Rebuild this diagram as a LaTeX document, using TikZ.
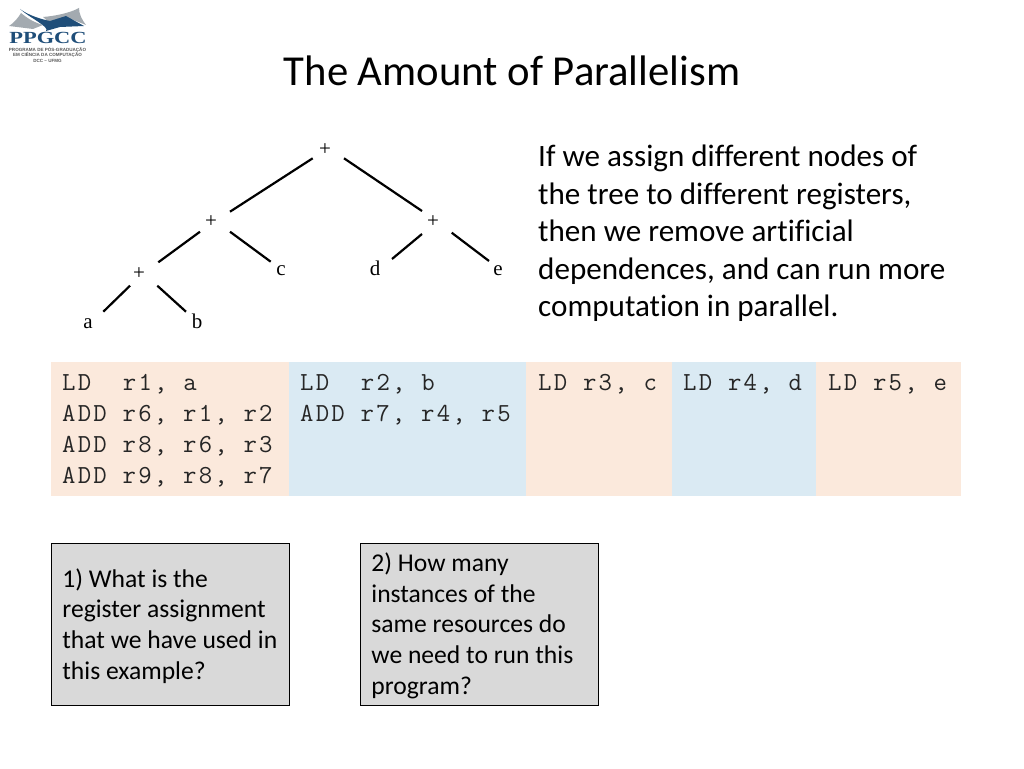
\documentclass[tikz,border=0pt]{standalone}
\usepackage{fontspec}
\usetikzlibrary{calc}
\setmainfont{Carlito}[Ligatures=NoCommon]
\newfontfamily\monof{Latin Modern Mono}[LetterSpace=8.5]
\newfontfamily\treef{Liberation Serif}
\newfontfamily\logof{Liberation Serif}[FakeStretch=1.32]
\newfontfamily\logos{Liberation Sans}
\definecolor{peach}{HTML}{FBE9DC}
\definecolor{paleblue}{HTML}{DAEAF3}
\definecolor{qgray}{HTML}{D9D9D9}
\definecolor{logoblue}{HTML}{1F4E79}
\definecolor{logogray}{HTML}{A3AAB0}
\newcommand\firstline{\rule{0pt}{24pt}}
\newcommand\qfirst{\rule{0pt}{21.5pt}}
\newcommand\monofont{\monof\fontsize{26}{31}\selectfont\fontdimen2\font=15.9pt }
\tikzset{
  treenode/.style={anchor=base,inner sep=0pt,font=\treef\fontsize{21}{21}\selectfont},
  treeedge/.style={line width=2.2pt,black},
  cell/.style={anchor=north west,inner sep=0pt,outer sep=0pt,minimum height=134pt},
  celltext/.style={anchor=north west,inner sep=0pt,align=flush left,text=black!85,font=\monofont},
  question/.style={draw=black,line width=0.8pt,fill=qgray,anchor=north west,minimum width=238pt,minimum height=162pt,inner sep=0pt,align=flush left,text width=216pt,font=\fontsize{25.6}{30.7}\selectfont},
}
\begin{document}
\begin{tikzpicture}[x=1pt,y=-1pt]
\useasboundingbox (0,0) rectangle (1024,768);
\fill[white] (0,0) rectangle (1024,768);
% logo
\fill[logogray] (9,26) .. controls (14,23) and (18,18) .. (21,13) .. controls (27,18) and (33,22) .. (43,25) -- (33,29) -- cycle;
\fill[logogray] (43,17) .. controls (55,16) and (70,13) .. (79,8) .. controls (79,14) and (82,20) .. (86,25) -- (66,17) -- (50,23) -- cycle;
\fill[logoblue] (20,9) .. controls (28,15) and (40,19) .. (50,21) -- (66,16) -- (84,26) -- (60,27) -- (46,31) .. controls (50,27) and (30,18) .. (20,9) -- cycle;
\node[inner sep=0pt,text=logoblue] (logotext) at (48,38) {\logof\bfseries\fontsize{17}{17}\selectfont PPGCC};
\node[inner sep=0pt,align=center,text=black!65,font=\logos\bfseries\fontsize{4.55}{5.5}\selectfont] (logosub) at (47.5,54.8) {PROGRAMA DE PÓS-GRADUAÇÃO\\EM CIÊNCIA DA COMPUTAÇÃO\\DCC – UFMG};
% title
\node[inner sep=0pt,font=\fontsize{42.7}{42.7}\selectfont] (title) at (512,71) {The Amount of Parallelism};
% tree
\node[treenode] (root) at (325,155.5) {+};
\node[treenode] (l) at (211,227.5) {+};
\node[treenode] (r) at (433,227.5) {+};
\node[treenode] (ll) at (139,279.5) {+};
\node[treenode] (c) at (281,275.7) {c};
\node[treenode] (d) at (375,275.7) {d};
\node[treenode] (e) at (498,275.7) {e};
\node[treenode] (a) at (88,328.3) {a};
\node[treenode] (b) at (197,328.3) {b};
\draw[treeedge] ($(root.base)+(-12.3,2.8)$) -- ($(l.base)+(19,-15.8)$);
\draw[treeedge] ($(root.base)+(19,2.8)$) -- ($(r.base)+(-11,-16.5)$);
\draw[treeedge] ($(l.base)+(-11,4.2)$) -- ($(ll.base)+(19.3,-17.2)$);
\draw[treeedge] ($(l.base)+(19,4.2)$) -- ($(c.base)+(-10.3,-14)$);
\draw[treeedge] ($(r.base)+(-11,6.5)$) -- ($(d.base)+(17,-16.7)$);
\draw[treeedge] ($(r.base)+(18.7,5.2)$) -- ($(e.base)+(-9,-14.7)$);
\draw[treeedge] ($(ll.base)+(-9,6.2)$) -- ($(a.base)+(15.3,-16.6)$);
\draw[treeedge] ($(ll.base)+(18.3,6.2)$) -- ($(b.base)+(-11,-16.6)$);
% paragraph
\node[anchor=north west,inner sep=0pt,align=flush left,font=\fontsize{31.1}{37.5}\selectfont] (para) at (538,145) {If we assign different nodes of\\the tree to different registers,\\then we remove artificial\\dependences, and can run more\\computation in parallel.};
% table
\node[cell,fill=peach,minimum width=238pt] (c1) at (51,362) {};
\node[cell,fill=paleblue,minimum width=237pt] (c2) at (289,362) {};
\node[cell,fill=peach,minimum width=146pt] (c3) at (526,362) {};
\node[cell,fill=paleblue,minimum width=144pt] (c4) at (672,362) {};
\node[cell,fill=peach,minimum width=145pt] (c5) at (816,362) {};
\node[celltext] (t1) at (62,366) {\firstline LD\ \ r1, a\\ADD r6, r1, r2\\ADD r8, r6, r3\\ADD r9, r8, r7};
\node[celltext] (t2) at (300,366) {\firstline LD\ \ r2, b\\ADD r7, r4, r5};
\node[celltext] (t3) at (538,366) {\firstline LD r3, c};
\node[celltext] (t4) at (683,366) {\firstline LD r4, d};
\node[celltext] (t5) at (828,366) {\firstline LD r5, e};
% questions
\node[question] (q1) at (51,543) {\qfirst 1) What is the\\register assignment\\that we have used in\\this example?};
\node[question] (q2) at (360,543) {\qfirst 2) How many\\instances of the\\same resources do\\we need to run this\\program?};
\end{tikzpicture}
\end{document}
